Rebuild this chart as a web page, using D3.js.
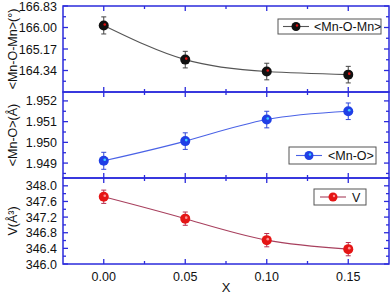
<!DOCTYPE html>
<html><head><meta charset="utf-8">
<script src="https://cdn.jsdelivr.net/npm/d3@7"></script>
<style>body{margin:0;background:#fff}svg{display:block}text{font-family:Arial,"Liberation Sans",sans-serif}</style>
</head><body>
<svg id="c" width="392" height="296"></svg>
<script>
const xValues = [0.00, 0.05, 0.10, 0.15];
const xTicks = [0.00, 0.05, 0.10, 0.15];
const angleValues = [166.08, 164.76, 164.30, 164.18];
const angleErrors = [0.33, 0.32, 0.32, 0.32];
const angleTicks = [164.34, 165.17, 166.00, 166.83];
const bondValues = [1.94911, 1.95006, 1.95110, 1.95150];
const bondErrors = [0.00041, 0.00040, 0.00040, 0.00040];
const bondTicks = [1.949, 1.950, 1.951, 1.952];
const volValues = [347.72, 347.16, 346.61, 346.38];
const volErrors = [0.17, 0.17, 0.17, 0.17];
const volTicks = [346.0, 346.4, 346.8, 347.2, 347.6, 348.0];

const svg = d3.select("#c");
const L = 63, R = 389;
const axisColor = "#2b2bdc";
const x = d3.scaleLinear().domain([-0.025, 0.175]).range([L, R]);

const panels = [
  {top: 6, bottom: 92, domain: [163.51, 166.83], ticks: angleTicks, fmt: d3.format(".2f"),
   vals: angleValues, errs: angleErrors, line: "#555", err: "#444", fill: "#111", hi: "#e01010",
   title: "<Mn-O-Mn>(°)", legend: {x0: 278, x1: 381, y0: 19, y1: 34, mx: 296, tx: 314, label: "<Mn-O-Mn>"}},
  {top: 92, bottom: 178, domain: [1.94828, 1.95243], ticks: bondTicks, fmt: d3.format(".3f"),
   vals: bondValues, errs: bondErrors, line: "#4a62e6", err: "#3048d8", fill: "#1f3fe6", hi: "#40d0ff",
   title: "<Mn-O>(Å)", legend: {x0: 289, x1: 376, y0: 147, y1: 164, mx: 309, tx: 328, label: "<Mn-O>"}},
  {top: 178, bottom: 264, domain: [346.0, 348.2], ticks: volTicks, fmt: d3.format(".1f"),
   vals: volValues, errs: volErrors, line: "#a8405e", err: "#b83050", fill: "#e51515", hi: "#ff9090",
   title: "V(Å³)", legend: {x0: 314, x1: 366, y0: 189, y1: 205, mx: 333, tx: 352, label: "V"}}
];

panels.forEach((p, i) => {
  const y = d3.scaleLinear().domain(p.domain).range([p.bottom, p.top]);
  const g = svg.append("g");
  // minor ticks
  const step = p.ticks[1] - p.ticks[0];
  const minor = [];
  for (let k = -1; k < p.ticks.length; k++) {
    const v = p.ticks[0] + (k + 0.5) * step;
    if (v > p.domain[0] && v < p.domain[1]) minor.push(v);
  }
  const tk = g.append("g").attr("stroke", axisColor).attr("stroke-width", 1.3);
  p.ticks.forEach(t => {
    const yy = y(t);
    tk.append("line").attr("x1", L).attr("x2", L + 5).attr("y1", yy).attr("y2", yy);
    tk.append("line").attr("x1", R).attr("x2", R - 5).attr("y1", yy).attr("y2", yy);
  });
  minor.forEach(t => {
    const yy = y(t);
    tk.append("line").attr("x1", L).attr("x2", L + 3).attr("y1", yy).attr("y2", yy);
    tk.append("line").attr("x1", R).attr("x2", R - 3).attr("y1", yy).attr("y2", yy);
  });
  // x ticks top and bottom
  const xt = d3.range(-0.025, 0.1751, 0.025).filter(v => v > -0.024 && v < 0.174);
  xt.forEach(v => {
    const major = Math.abs(Math.round(v / 0.05) * 0.05 - v) < 1e-6;
    const len = major ? 5 : 3;
    const xx = x(v);
    tk.append("line").attr("x1", xx).attr("x2", xx).attr("y1", p.top).attr("y2", p.top + len);
    tk.append("line").attr("x1", xx).attr("x2", xx).attr("y1", p.bottom).attr("y2", p.bottom - len);
  });
  // y tick labels
  g.append("g").selectAll("text").data(p.ticks).join("text")
    .attr("x", 57).attr("y", d => y(d)).attr("dy", "0.36em")
    .attr("text-anchor", "end").attr("font-size", 12.5).attr("fill", "#111")
    .text(d => p.fmt(d));
  // title
  g.append("text").attr("transform", `translate(17,${(p.top + p.bottom) / 2}) rotate(-90)`)
    .attr("text-anchor", "middle").attr("font-size", 12.5).attr("fill", "#111").text(p.title);
  // curve
  const pts = xValues.map((xv, j) => [x(xv), y(p.vals[j])]);
  g.append("path").attr("d", d3.line().curve(d3.curveNatural)(pts))
    .attr("fill", "none").attr("stroke", p.line).attr("stroke-width", 1.1);
  // error bars
  const eb = g.append("g").attr("stroke", p.err).attr("stroke-width", 1);
  xValues.forEach((xv, j) => {
    const xx = x(xv), y1 = y(p.vals[j] - p.errs[j]), y2 = y(p.vals[j] + p.errs[j]);
    eb.append("line").attr("x1", xx).attr("x2", xx).attr("y1", y1).attr("y2", y2);
    eb.append("line").attr("x1", xx - 2.5).attr("x2", xx + 2.5).attr("y1", y1).attr("y2", y1);
    eb.append("line").attr("x1", xx - 2.5).attr("x2", xx + 2.5).attr("y1", y2).attr("y2", y2);
  });
  // markers
  xValues.forEach((xv, j) => {
    const xx = x(xv), yy = y(p.vals[j]);
    g.append("circle").attr("cx", xx).attr("cy", yy).attr("r", 5).attr("fill", p.fill);
    g.append("circle").attr("cx", xx + 1).attr("cy", yy - 1).attr("r", 1.3).attr("fill", p.hi);
  });
  // legend
  const lg = p.legend;
  g.append("rect").attr("x", lg.x0).attr("y", lg.y0).attr("width", lg.x1 - lg.x0).attr("height", lg.y1 - lg.y0)
    .attr("fill", "#fff").attr("stroke", "#555").attr("stroke-width", 1);
  const ly = (lg.y0 + lg.y1) / 2;
  g.append("line").attr("x1", lg.mx - 13).attr("x2", lg.mx + 13).attr("y1", ly).attr("y2", ly)
    .attr("stroke", p.line).attr("stroke-width", 1.1);
  g.append("circle").attr("cx", lg.mx).attr("cy", ly).attr("r", 4.5).attr("fill", p.fill);
  g.append("circle").attr("cx", lg.mx + 1).attr("cy", ly - 1).attr("r", 1.2).attr("fill", p.hi);
  g.append("text").attr("x", lg.tx).attr("y", ly).attr("dy", "0.36em").attr("font-size", 12.5)
    .attr("fill", "#111").text(lg.label);
  // frame
  g.append("rect").attr("x", L).attr("y", p.top).attr("width", R - L).attr("height", p.bottom - p.top)
    .attr("fill", "none").attr("stroke", axisColor).attr("stroke-width", 1.5);
});

// x tick labels
const yLast = 264;
svg.append("g").selectAll("text").data(xTicks).join("text")
  .attr("x", d => x(d)).attr("y", yLast + 12).attr("dy", "0.36em")
  .attr("text-anchor", "middle").attr("font-size", 12.5).attr("fill", "#111")
  .text(d => d3.format(".2f")(d));
svg.append("text").attr("x", x(0.075)).attr("y", 292).attr("text-anchor", "middle")
  .attr("font-size", 13).attr("fill", "#111").text("X");
</script>
</body></html>
